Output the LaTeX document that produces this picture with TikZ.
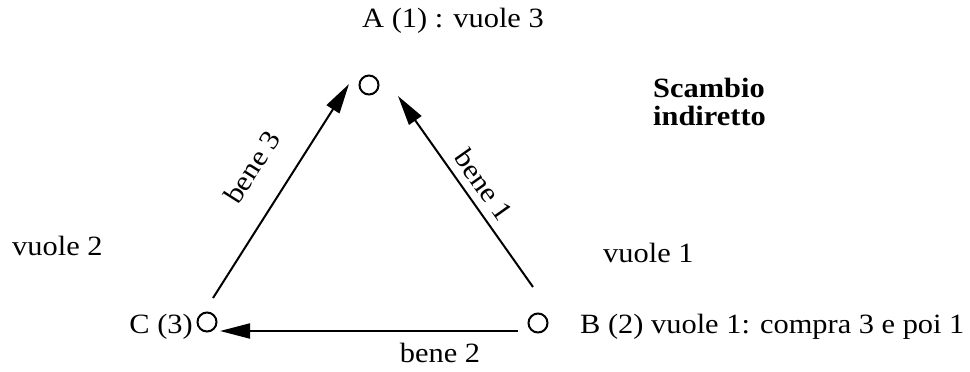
\documentclass[tikz,border=0pt]{standalone}
\usepackage{fontspec}
\setmainfont[FakeStretch=1.09]{Liberation Serif}
\usetikzlibrary{arrows.meta}
\begin{document}
\begin{tikzpicture}[x=1bp,y=-1bp,
  dot/.style={circle,draw,line width=2bp,minimum size=19bp,inner sep=0pt},
  arr/.style={line width=2bp,-{Triangle[length=30bp,width=15bp]}},
  lbl/.style={font=\fontsize{28}{32}\selectfont,inner sep=0pt}]
\useasboundingbox (0,0) rectangle (970,371);
\node[dot] (A) at (369,85) {};
\node[dot] (C) at (207,322) {};
\node[dot] (B) at (538,323) {};
\coordinate (c1) at (213,298);
\coordinate (a1) at (349,84);
\coordinate (b1) at (533,287);
\coordinate (a2) at (398,96);
\coordinate (b2) at (518,331);
\coordinate (c2) at (220,331);
\draw[arr] (c1) -- (a1);
\draw[arr] (b1) -- (a2);
\draw[arr] (b2) -- (c2);
\node[lbl,anchor=base west] (tA) at (362,27) {A (1) : vuole 3};
\node[lbl,anchor=base west] (t2) at (12,255) {vuole 2};
\node[lbl,anchor=base west] (t1) at (603,262) {vuole 1};
\node[lbl,anchor=base east] (tC) at (193,333) {C (3)};
\node[lbl,anchor=base west] (tB) at (580,333) {B (2) vuole 1: compra 3 e poi 1};
\node[lbl,anchor=base] (tb2) at (440,362) {bene 2};
\node[lbl,rotate=57.6] (tb3) at (252,167) {bene 3};
\node[lbl,rotate=-54.7] (tb1) at (484,185) {bene 1};
\node[lbl,font=\bfseries\fontsize{28}{28}\selectfont,align=left,anchor=base west] (ts) at (653,125) {Scambio\\indiretto};
\end{tikzpicture}
\end{document}
